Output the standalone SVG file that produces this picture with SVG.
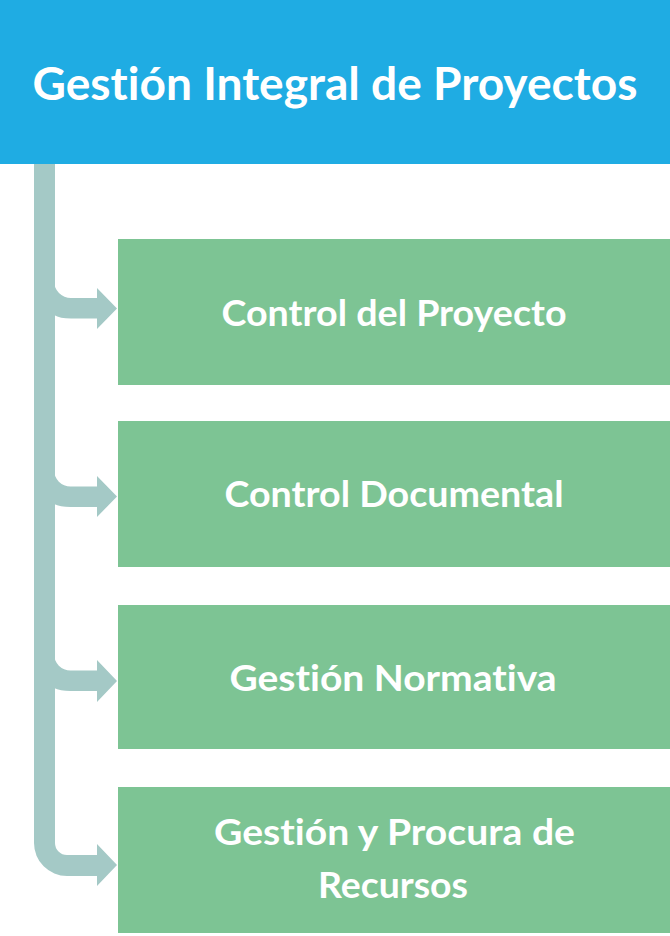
<svg xmlns="http://www.w3.org/2000/svg" width="670" height="936" viewBox="0 0 670 936">
<style>
.box{fill:#7DC494}
.t{font-family:Lato,"Liberation Sans",sans-serif;font-weight:700;fill:#FFFFFF;text-anchor:middle;font-variant-ligatures:none;font-feature-settings:"liga" 0,"clig" 0}
.lbl{font-size:37px}
.conn{fill:#A4C9C6}
</style>
<rect width="670" height="936" fill="#FFFFFF"/>
<g id="header">
<rect x="0" y="0" width="670" height="164" fill="#1FACE3"/>
<text class="t" x="335" y="100" font-size="46" textLength="605" lengthAdjust="spacingAndGlyphs">Gestión Integral de Proyectos</text>
</g>
<g id="connectors">
<path class="conn" d="M34,164 V843 A33,33 0 0 0 67,876 L97,876 L97,886 L117,865 L97,844 L97,855 L67,855 A12,12 0 0 1 55,843 V164 Z"/>
<path class="conn" d="M54,281 A17,17 0 0 0 71,298 L97,298 L97,288 L117,308.5 L97,329 L97,318.5 L71,318.5 Q60,318.5 54,315 Z"/>
<path class="conn" d="M54,470 A16.5,16.5 0 0 0 70.5,486.5 L97,486.5 L97,476 L117,496.5 L97,517 L97,507 L70.5,507 Q60,507 54,504 Z"/>
<path class="conn" d="M54,654 A16.5,16.5 0 0 0 70.5,670.5 L97,670.5 L97,660 L117,681 L97,702 L97,691 L70.5,691 Q60,691 54,688 Z"/>
</g>
<g id="node1">
<rect class="box" x="118" y="239" width="552" height="146"/>
<text class="t lbl" x="394" y="326" textLength="345" lengthAdjust="spacingAndGlyphs">Control del Proyecto</text>
</g>
<g id="node2">
<rect class="box" x="118" y="421" width="552" height="146"/>
<text class="t lbl" x="394" y="507" textLength="339" lengthAdjust="spacingAndGlyphs">Control Documental</text>
</g>
<g id="node3">
<rect class="box" x="118" y="605" width="552" height="144"/>
<text class="t lbl" x="393" y="691" textLength="327" lengthAdjust="spacingAndGlyphs">Gestión Normativa</text>
</g>
<g id="node4">
<rect class="box" x="118" y="787" width="552" height="146"/>
<text class="t lbl" x="394.5" y="845" textLength="361" lengthAdjust="spacingAndGlyphs">Gestión y Procura de</text>
<text class="t lbl" x="393" y="898" textLength="150" lengthAdjust="spacingAndGlyphs">Recursos</text>
</g>
</svg>
